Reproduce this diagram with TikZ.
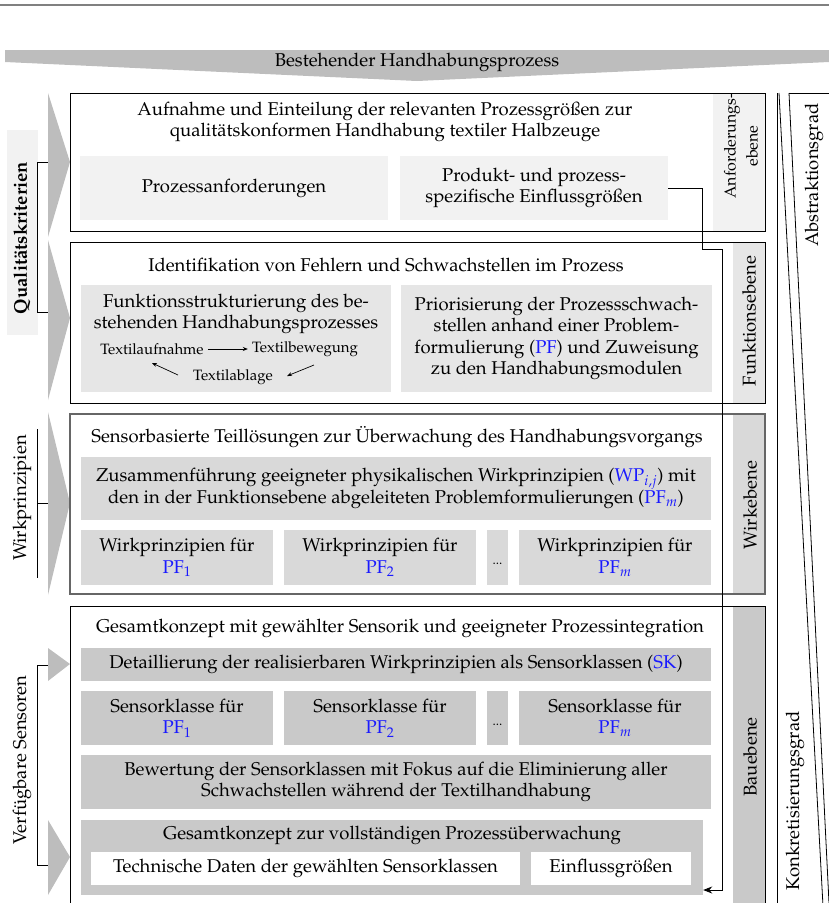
\documentclass[tikz,border=0pt]{standalone}
\usepackage[T1]{fontenc}
\usepackage{mathpazo}
\usetikzlibrary{arrows.meta}

\definecolor{bannergray}{HTML}{BDBDBD}
\definecolor{lvlA}{HTML}{F2F2F2}
\definecolor{lvlB}{HTML}{E6E6E6}
\definecolor{lvlC}{HTML}{D9D9D9}
\definecolor{lvlD}{HTML}{C9C9C9}
\definecolor{pfblue}{HTML}{1A1AFF}
\newcommand{\pfx}[1]{\textcolor{pfblue}{#1}}

\tikzset{
  txt/.style={font=\fontsize{18.5}{21.5}\selectfont, align=center, inner sep=0pt},
  smalltxt/.style={font=\fontsize{15}{18}\selectfont, inner sep=1pt},
  subbox/.style={txt, minimum width=#1, draw=none},
  level/.style={draw=black, line width=0.9pt},
  chevron/.style={fill=bannergray},
  brack/.style={draw=black, line width=0.8pt},
  flow/.style={-{Stealth[length=5pt,width=4pt]}, line width=0.7pt, shorten >=3pt, shorten <=3pt},
}

\begin{document}
\begin{tikzpicture}[x=1pt,y=-1pt]
\clip (0,0) rectangle (829,903);
\useasboundingbox (0,0) rectangle (829,903);

% rule at the very top
\draw[gray, line width=1.5pt] (0,5) -- (829,5);

% banner arrow
\fill[bannergray] (5,50) -- (829,50) -- (829,62) -- (417,81) -- (5,62) -- cycle;
\node[txt] (banner) at (417,62) {Bestehender Handhabungsprozess};

% input chevrons on the left
\fill[chevron] (48,93) -- (70,162) -- (48,237) -- cycle;
\fill[chevron] (48,240) -- (70,318) -- (48,400) -- cycle;
\fill[chevron] (48,412) -- (70,503) -- (48,595) -- cycle;
\fill[chevron] (48,648) -- (70,664) -- (48,681) -- cycle;
\fill[chevron] (48,820) -- (70,857) -- (48,895) -- cycle;

% side labels with brackets
\fill[lvlA] (7,130) rectangle (38,335);
\node[txt, rotate=90, font=\fontsize{18.5}{21.5}\selectfont\bfseries] (qk) at (22,238) {Qualit\"atskriterien};
\draw[brack] (48,162) -- (37,162) -- (37,312) -- (48,312);

\node[txt, rotate=90] (wp) at (22,498) {Wirkprinzipien};
\draw[brack] (37,429) -- (37,578);
\draw[brack] (37,503) -- (48,503);

\node[txt, rotate=90] (vs) at (22,760) {Verf\"ugbare Sensoren};
\draw[brack] (48,665) -- (37,665) -- (37,865) -- (48,865);

% level strips
\fill[lvlA] (713,93) rectangle (765,231);
\fill[lvlB] (733,242) rectangle (765,403);
\fill[lvlC] (733,414) rectangle (765,594);
\fill[lvlD] (733,607) rectangle (765,906);

% level frames
\draw[level] (70,93) rectangle (765,231);
\draw[level] (70,242) rectangle (765,403);
\draw[level, draw=black!60, line width=1.2pt] (70,414) rectangle (765,594);
\draw[level] (70,606) rectangle (765,906);

\node[txt, rotate=90, font=\fontsize{16}{22}\selectfont] (lblA) at (741,146) {Anforderungs-\\ebene};
\node[txt, rotate=90] (lblB) at (749,321) {Funktionsebene};
\node[txt, rotate=90] (lblC) at (750,505) {Wirkebene};
\node[txt, rotate=90] (lblD) at (750,757) {Bauebene};

% --- requirement level
\node[txt] (tA) at (385,122) {Aufnahme und Einteilung der relevanten Prozessgr\"o\ss en zur\\qualit\"atskonformen Handhabung textiler Halbzeuge};
\node[subbox=308, fill=lvlA, minimum height=64] (pa) at (234,188) {Prozessanforderungen};
\node[subbox=268, fill=lvlA, minimum height=64] (prod) at (534,188) {Produkt- und prozess-\\spezifische Einflussgr\"o\ss en};

% --- function level
\node[txt] (tB) at (386,265) {Identifikation von Fehlern und Schwachstellen im Prozess};
\node[subbox=310, fill=lvlB, minimum height=107] (fs) at (236,338.5) {};
\node[txt] (fsT) at (236,314) {Funktionsstrukturierung des be-\\stehenden Handhabungsprozesses};
\node[smalltxt] (ta) at (152,349) {Textilaufnahme};
\node[smalltxt] (tb) at (305,349) {Textilbewegung};
\node[smalltxt] (tl) at (233,377) {Textilablage};
\coordinate (tlA) at (178,375);
\coordinate (taB) at (152,363);
\coordinate (tbA) at (314,365);
\coordinate (tlB) at (287,376);
\draw[flow] (ta) -- (tb);
\draw[flow, shorten <=0pt, shorten >=0pt] (tlA) -- (taB);
\draw[flow, shorten <=0pt, shorten >=0pt] (tbA) -- (tlB);
\node[subbox=311, fill=lvlB, minimum height=107] (pri) at (556.5,338.5) {Priorisierung der Prozessschwach-\\stellen anhand einer Problem-\\formulierung (\pfx{PF}) und Zuweisung\\zu den Handhabungsmodulen};

% --- working-principle level
\node[txt] (tC) at (397,437) {Sensorbasierte Teill\"osungen zur \"Uberwachung des Handhabungsvorgangs};
\node[subbox=630, fill=lvlC, minimum height=63] (zus) at (396,488.5) {Zusammenf\"uhrung geeigneter physikalischen Wirkprinzipien (\pfx{WP$_{i,j}$}) mit\\den in der Funktionsebene abgeleiteten Problemformulierungen (\pfx{PF$_m$})};
\node[subbox=192, fill=lvlC, minimum height=55] (w1) at (177,557.5) {Wirkprinzipien f\"ur\\\pfx{PF$_1$}};
\node[subbox=192, fill=lvlC, minimum height=55] (w2) at (380,557.5) {Wirkprinzipien f\"ur\\\pfx{PF$_2$}};
\node[subbox=21, fill=lvlC, minimum height=55] (wd) at (497.5,557.5) {};
\node[smalltxt, font=\fontsize{13}{14}\selectfont] (wdT) at (497.5,564) {...};
\node[subbox=192, fill=lvlC, minimum height=55] (w3) at (615,557.5) {Wirkprinzipien f\"ur\\\pfx{PF$_m$}};

% --- construction level
\node[txt] (tD) at (400,628) {Gesamtkonzept mit gew\"ahlter Sensorik und geeigneter Prozessintegration};
\node[subbox=630, fill=lvlD, minimum height=33] (det) at (396,664.5) {Detaillierung der realisierbaren Wirkprinzipien als Sensorklassen (\pfx{SK})};
\node[subbox=192, fill=lvlD, minimum height=54] (s1) at (177,718) {Sensorklasse f\"ur\\\pfx{PF$_1$}};
\node[subbox=192, fill=lvlD, minimum height=54] (s2) at (380,718) {Sensorklasse f\"ur\\\pfx{PF$_2$}};
\node[subbox=21, fill=lvlD, minimum height=54] (sd) at (497.5,718) {};
\node[smalltxt, font=\fontsize{13}{14}\selectfont] (sdT) at (497.5,725) {...};
\node[subbox=192, fill=lvlD, minimum height=54] (s3) at (615,718) {Sensorklasse f\"ur\\\pfx{PF$_m$}};
\node[subbox=630, fill=lvlD, minimum height=54] (bew) at (396,782) {Bewertung der Sensorklassen mit Fokus auf die Eliminierung aller\\Schwachstellen w\"ahrend der Textilhandhabung};
\node[subbox=622, fill=lvlD, minimum height=75] (gk) at (392,857.5) {};
\node[txt] (gkT) at (392,835) {Gesamtkonzept zur vollst\"andigen Prozess\"uberwachung};
\node[subbox=429, fill=white, minimum height=33] (tech) at (305.5,868.5) {Technische Daten der gew\"ahlten Sensorklassen};
\node[subbox=160, fill=white, minimum height=33] (ein) at (611,868.5) {Einflussgr\"o\ss en};

% influence quantities are carried down into the overall concept
\coordinate (r1) at (702,188);
\coordinate (r2) at (702,249);
\coordinate (r3) at (722,249);
\coordinate (r4) at (722,890);
\coordinate (r5) at (gk.east |- r4);
\draw[line width=0.8pt, -{Stealth[length=9pt,width=7pt]}] (prod.east) -- (r1) -- (r2) -- (r3) -- (r4) -- (r5);

% degree of abstraction / concretisation
\draw[line width=0.8pt] (777,93) -- (777,906);
\draw[line width=0.8pt] (779,93) -- (823,906);
\draw[line width=0.8pt] (789,93) -- (829,93);
\draw[line width=0.8pt] (789,93) -- (829,903);
\node[txt, rotate=90] (abs) at (814,175) {Abstraktionsgrad};
\node[txt, rotate=90] (kon) at (795,801) {Konkretisierungsgrad};
\end{tikzpicture}
\end{document}
